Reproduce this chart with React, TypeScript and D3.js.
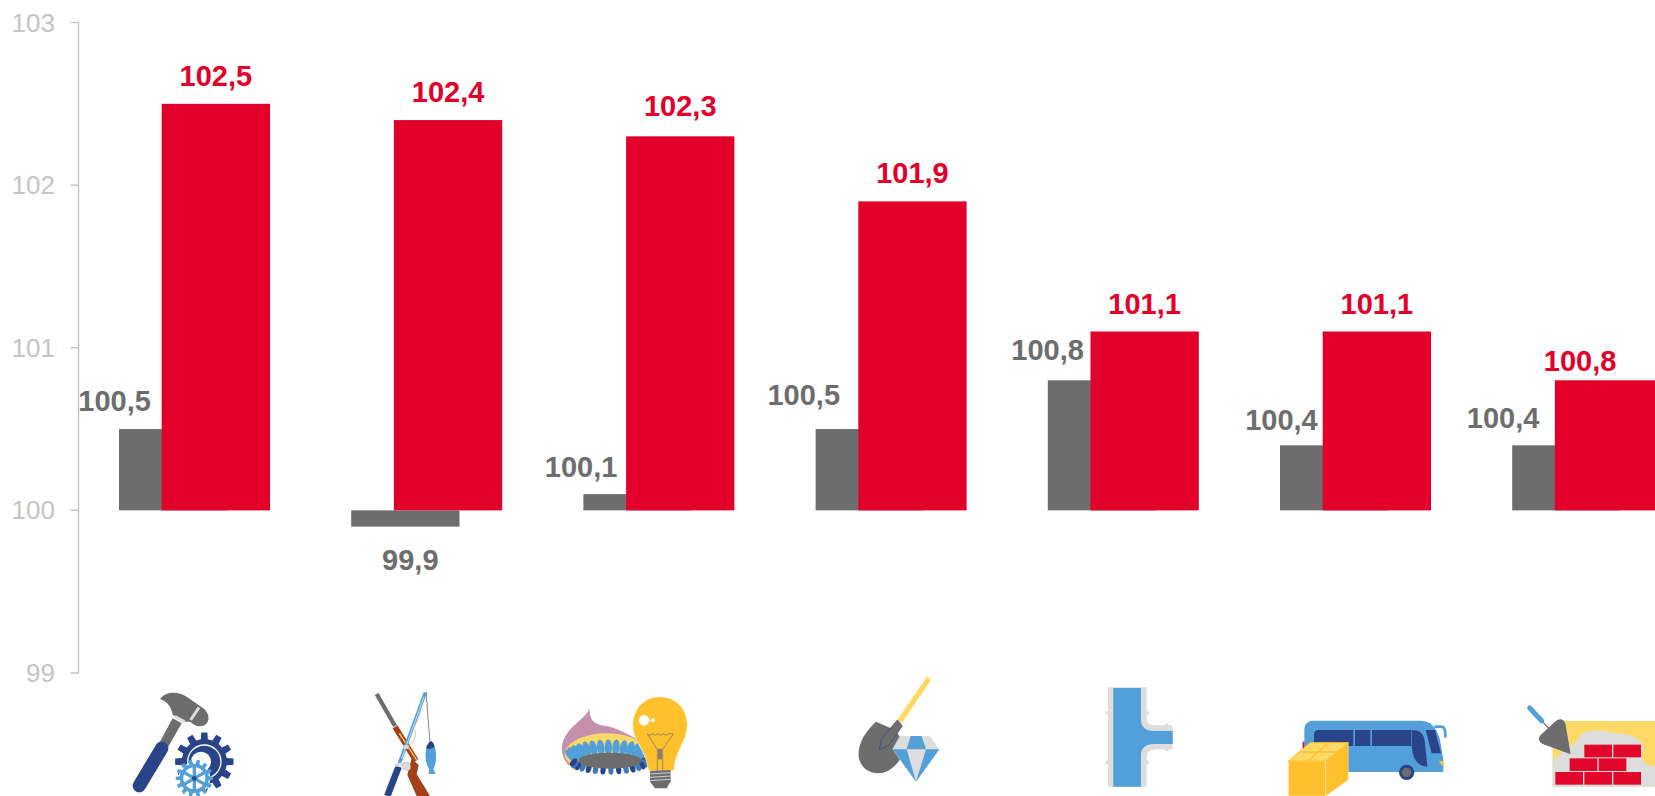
import * as d3 from 'd3';
import * as React from 'react';

const categories = ['tools', 'fishing', 'energy', 'mining', 'pipes', 'transport', 'building'];
const prevValues = [100.5, 99.9, 100.1, 100.5, 100.8, 100.4, 100.4];
const currValues = [102.5, 102.4, 102.3, 101.9, 101.1, 101.1, 100.8];
const tickValues = [99, 100, 101, 102, 103];

// hand-placed labels, same as in the source slide
const prevLabelDx = [-58.6, 5, -56.5, -66, -54.3, -52.7, -63.3];
const prevLabelDy = [-18, 43, -17, -24, -20, -15, -17];
const currLabelDx = [0, 0, 0, 0, 0, 0, -29];
const currLabelDy = [-17.5, -18.5, -20.5, -18.5, -17.5, -17.5, -9];

const width = 1655;
const height = 796;
const grey = '#6d6d6d';
const red = '#e2002b';
const blue = '#529fd9';
const navy = '#2a4489';
const yellow = '#ffc02e';
const paleYellow = '#ffd966';
const pale = '#dedddd';
const brown = '#a5401a';

const y = d3.scaleLinear().domain([99, 103]).range([673, 22.5]);
const x = d3.scaleBand<string>().domain(categories).range([119, 119 + 232.2 * 6 + 108.3]).paddingInner(1 - 108.3 / 232.2).paddingOuter(0);
const redShift = 42.7;

const fmt = (v: number) => v.toFixed(1).replace('.', ',');

function gearPath(cx: number, cy: number, outer: number, inner: number, teeth: number) {
    const pts: [number, number][] = [];
    const step = (Math.PI * 2) / teeth;
    d3.range(teeth).forEach((i) => {
        const a = i * step;
        [[-0.3, inner], [-0.2, outer], [0.2, outer], [0.3, inner]].forEach(([k, r]) => {
            pts.push([cx + Math.cos(a + k * step) * r, cy + Math.sin(a + k * step) * r]);
        });
    });
    return d3.line()(pts) + 'Z';
}

// icons are traced in 3x crop units, hence the scale
const crop = (ox: number, oy: number) => `translate(${ox},${oy}) scale(${1 / 3})`;

const ToolsIcon = () => (
    <g transform={crop(0, 400)}>
        <path fill={grey} d='M518,955 L545,970 L505,1040 L480,1025Z' />
        <path fill={grey} d='M480,897 C500,872 535,875 560,890 L610,925 C634,945 630,978 600,979 C590,980 580,972 570,965 L556,965 L518,944 C515,925 505,905 480,897Z' />
        <path stroke={pale} strokeWidth={9} d='M572,960 L597,922 M525,950 L553,965' />
        <path stroke={navy} strokeWidth={40} strokeLinecap='round' d='M485,1045 L418,1157' />
        <path fill={navy} d={gearPath(613, 1085, 88, 68, 12)} />
        <circle cx={613} cy={1085} r={50} fill='none' stroke='#fff' strokeWidth={4} />
        <circle cx={603} cy={1085} r={30} fill='#fff' />
        <circle cx={583} cy={1135} r={48} fill='#fff' />
        <path fill={blue} d={gearPath(583, 1135, 56, 44, 14)} />
        <circle cx={583} cy={1135} r={33} fill='#fff' />
        <path stroke={blue} strokeWidth={10} d='M583,1099 V1171 M552,1117 L614,1153 M552,1153 L614,1117' />
        <circle cx={583} cy={1135} r={7} fill={navy} />
    </g>
);

const FishingIcon = () => (
    <g transform={crop(320, 650)} fill='none'>
        <path stroke={grey} strokeWidth={13} d='M170,132 L225,228' />
        <path stroke={brown} strokeWidth={17} d='M225,230 L288,332' />
        <path stroke={paleYellow} strokeWidth={4} d='M238,250 L290,330' />
        <path fill={brown} d='M275,325 L296,345 L290,372 L330,438 L290,438 L262,375Z' />
        <path stroke={navy} strokeWidth={20} d='M236,350 L202,438' />
        <path stroke={blue} strokeWidth={10} d='M316,128 L238,340' />
        <path stroke='#fff' strokeWidth={2} d='M312,140 L245,325' />
        <path stroke='#c8c8c8' strokeWidth={3} d='M302,182 C296,205 290,225 275,235 M284,240 C292,260 280,280 262,288' />
        <path stroke={pale} strokeWidth={10} d='M225,345 L268,340 M250,290 L265,292' />
        <circle cx={260} cy={350} r={12} fill={pale} stroke={grey} strokeWidth={1} strokeDasharray='3 3' />
        <path stroke={grey} strokeWidth={2.5} d='M318,125 L330,278' />
        <path fill={blue} d='M333,273 C352,290 352,335 340,358 L347,372 L325,372 L328,358 C312,335 312,290 333,273Z' />
        <path fill={navy} d='M333,273 C342,278 345,288 342,292 C332,298 322,298 318,294 C320,285 326,278 333,273Z' />
    </g>
);

const EnergyIcon = () => {
    const angles = d3.range(-172, -4, 11.5);
    const flames = angles.map((a) => {
        const r = (a * Math.PI) / 180;
        return {a, cx: 868 + Math.cos(r) * 115, cy: 322 + Math.sin(r) * 30};
    });
    const lower = d3.range(0, 180, 12.5).map((a) => {
        const r = (a * Math.PI) / 180;
        return {cx: 868 + Math.cos(r) * 108, cy: 335 + Math.sin(r) * 25, a};
    });
    return (
        <g transform={crop(320, 650)}>
            <path fill='#c490ae' d='M808,175 C800,200 770,215 745,245 C718,280 720,315 745,345 L960,270 C930,258 900,238 870,230 C838,225 808,225 808,175Z' />
            <path fill={paleYellow} d='M735,320 C728,275 800,250 860,250 C910,250 960,265 985,300 L760,360Z' />
            {flames.map((f) => (
                <ellipse key={f.a} cx={f.cx} cy={f.cy} rx={11} ry={24} fill={blue}
                    transform={`rotate(${(f.a + 90) * 0.55},${f.cx},${f.cy})`} />
            ))}
            {lower.map((f) => (
                <ellipse key={f.a} cx={f.cx} cy={f.cy} rx={8} ry={14} fill={f.a % 25 === 0 ? navy : '#3f78ba'}
                    transform={`rotate(${(f.a - 90) * 0.5},${f.cx},${f.cy})`} />
            ))}
            <ellipse cx={870} cy={332} rx={95} ry={24} fill={grey} />
            <path fill={yellow} stroke='#fff' strokeWidth={2} d='M1020,140 C1070,140 1102,180 1102,225 C1102,275 1065,300 1062,362 L985,362 C980,300 938,275 938,225 C938,180 970,140 1020,140Z' />
            <circle cx={972} cy={211} r={16} fill='#fff' />
            <circle cx={998} cy={211} r={6} fill='#fff' />
            <path fill='none' stroke={grey} strokeWidth={2} d='M982,252 L990,256 L998,251 L1006,256 L1014,251 L1022,256 L1030,251 L1038,256 L1046,251 L1060,252 L1028,298 L1028,362 M982,252 L1012,298 L1012,362 M1012,298 H1028' />
            <rect x={1014} y={298} width={12} height={30} fill={grey} opacity={0.8} />
            <path fill={grey} d='M990,362 L1052,360 V394 L1040,415 H1005 L990,395Z' />
            <path stroke='#fff' strokeWidth={2} d='M990,372 L1052,368 M990,382 L1052,378 M990,392 L1052,388' />
        </g>
    );
};

const MiningIcon = () => (
    <g transform={crop(820, 650)}>
        <path stroke={paleYellow} strokeWidth={16} d='M327,85 L238,215' />
        <path fill={grey} d='M168,215 C130,250 110,290 117,325 C125,365 170,380 205,362 C235,345 252,310 262,290 L225,240Z' />
        <path fill={grey} stroke={navy} strokeWidth={2} d='M232,210 L247,228 L207,285 L178,300 L185,265Z' />
        <path fill={pale} stroke='#fff' strokeWidth={1} d='M240,258 L330,258 L358,298 L288,395 L218,298Z' />
        <path fill={blue} d='M272,258 L305,258 L318,298 L260,298Z M218,298 L260,298 L288,395Z M318,298 L358,298 L288,395Z' />
    </g>
);

const PipesIcon = () => (
    <g transform={crop(820, 650)}>
        <path fill={pale} d='M864,112 H980 V205 C980,220 992,226 1010,226 H1058 V298 H1010 C992,298 980,305 980,320 V410 H864Z' />
        {[[862, 188], [981, 188], [862, 337], [981, 337], [1040, 226], [1040, 298]].map(([cx, cy]) => (
            <circle key={`${cx}-${cy}`} cx={cx} cy={cy} r={6} fill={pale} />
        ))}
        <path fill={blue} d='M880,114 H963 V210 C963,232 980,243 1000,243 H1058 V282 H1000 C980,282 963,293 963,315 V410 H880Z' />
    </g>
);

const TransportIcon = () => (
    <g transform={crop(1255, 650)}>
        <rect x={143} y={275} width={6} height={24} fill={red} />
        <path fill='none' stroke={blue} strokeWidth={8} d='M538,230 H558 C570,230 572,245 571,263' />
        <path fill={blue} d='M148,240 C148,220 160,212 175,212 L495,212 C525,212 545,230 555,270 L565,330 L565,366 L148,366Z' />
        <path fill={navy} d='M190,240 H295 V288 H177 V253 C177,245 182,240 190,240Z' />
        <rect x={300} y={240} width={46} height={48} fill={navy} />
        <rect x={351} y={240} width={117} height={48} fill={navy} />
        <path fill={navy} d='M470,240 C495,240 508,250 510,280 L517,350 C490,350 475,330 470,290Z' />
        <path fill={navy} d='M512,240 H540 L558,310 H530Z' />
        <path fill={yellow} d='M552,332 L565,334 V346 C558,345 554,340 552,332Z' />
        <circle cx={455} cy={367} r={23} fill={navy} />
        <circle cx={455} cy={367} r={14} fill={grey} />
        <path fill={yellow} stroke='#fff' strokeWidth={1} d='M100,333 H212 V438 H100Z M212,333 L280,278 V390 L212,438Z' />
        <path fill={paleYellow} stroke={yellow} strokeWidth={3} d='M100,333 L165,278 H280 L212,333Z' />
        <path stroke={yellow} strokeWidth={4} d='M158,333 L222,278 M133,306 H247' />
    </g>
);

const brickRows = [[901, 366], [988, 366], [1075, 366], [944, 325], [1031, 325], [988, 284], [1075, 284]];

const BuildingIcon = () => (
    <g transform={crop(1255, 650)}>
        <path fill={paleYellow} d='M925,213 H1200 V410 H893 V290 H925Z' />
        <path fill={pale} d='M893,330 V410 H1200 V350 C1170,345 1150,330 1165,300 C1170,270 1130,250 1080,250 C1040,240 990,235 975,260 C960,280 945,290 930,300 C915,310 905,325 893,330Z' />
        {brickRows.map(([bx, by]) => (
            <rect key={`${bx}-${by}`} x={bx} y={by} width={83} height={38} fill='#e2062a' />
        ))}
        <path stroke={grey} strokeWidth={4} d='M860,212 L882,236' />
        <path stroke={blue} strokeWidth={15} strokeLinecap='round' d='M824,174 L860,212' />
        <path fill={grey} d='M915,208 C925,208 930,215 932,225 L947,313 L865,283 C850,275 848,265 857,255 L900,215 C905,211 910,208 915,208Z' />
    </g>
);

const icons = [ToolsIcon, FishingIcon, EnergyIcon, MiningIcon, PipesIcon, TransportIcon, BuildingIcon];

export default function App() {
    const font = '"Liberation Sans", Arial, sans-serif';
    const bw = x.bandwidth();
    return (
        <svg width={width} height={height} viewBox={`0 0 ${width} ${height}`}
            style={{position: 'fixed', left: 0, top: 0, background: '#fff'}} fontFamily={font}>
            <g className='y-axis'>
                <line x1={78.5} x2={78.5} y1={y(103)} y2={y(99)} stroke='#bfbfbf' strokeWidth={1.3} />
                {tickValues.map((t) => (
                    <g key={t} transform={`translate(0,${y(t)})`}>
                        <line x1={70.5} x2={78.5} stroke='#bfbfbf' strokeWidth={1.3} />
                        <text x={55} y={9} textAnchor='end' fontSize={26} fill='#c4c4c4'>{t}</text>
                    </g>
                ))}
            </g>
            {categories.map((c, i) => {
                const x0 = x(c)!;
                return (
                    <g key={c}>
                        <rect x={x0} width={bw} y={Math.min(y(prevValues[i]), y(100))}
                            height={Math.abs(y(prevValues[i]) - y(100))} fill={grey} />
                        <rect x={x0 + redShift} width={bw} y={y(currValues[i])}
                            height={y(100) - y(currValues[i])} fill={red} />
                        <text x={x0 + redShift + bw / 2 + currLabelDx[i]} y={y(currValues[i]) + currLabelDy[i]} textAnchor='middle'
                            fontSize={29} fontWeight='bold' fill={red}>{fmt(currValues[i])}</text>
                        <text x={x0 + bw / 2 + prevLabelDx[i]} y={y(prevValues[i]) + prevLabelDy[i]} textAnchor='middle'
                            fontSize={29} fontWeight='bold' fill={grey}>{fmt(prevValues[i])}</text>
                    </g>
                );
            })}
            {icons.map((Icon, i) => <Icon key={categories[i]} />)}
        </svg>
    );
}
